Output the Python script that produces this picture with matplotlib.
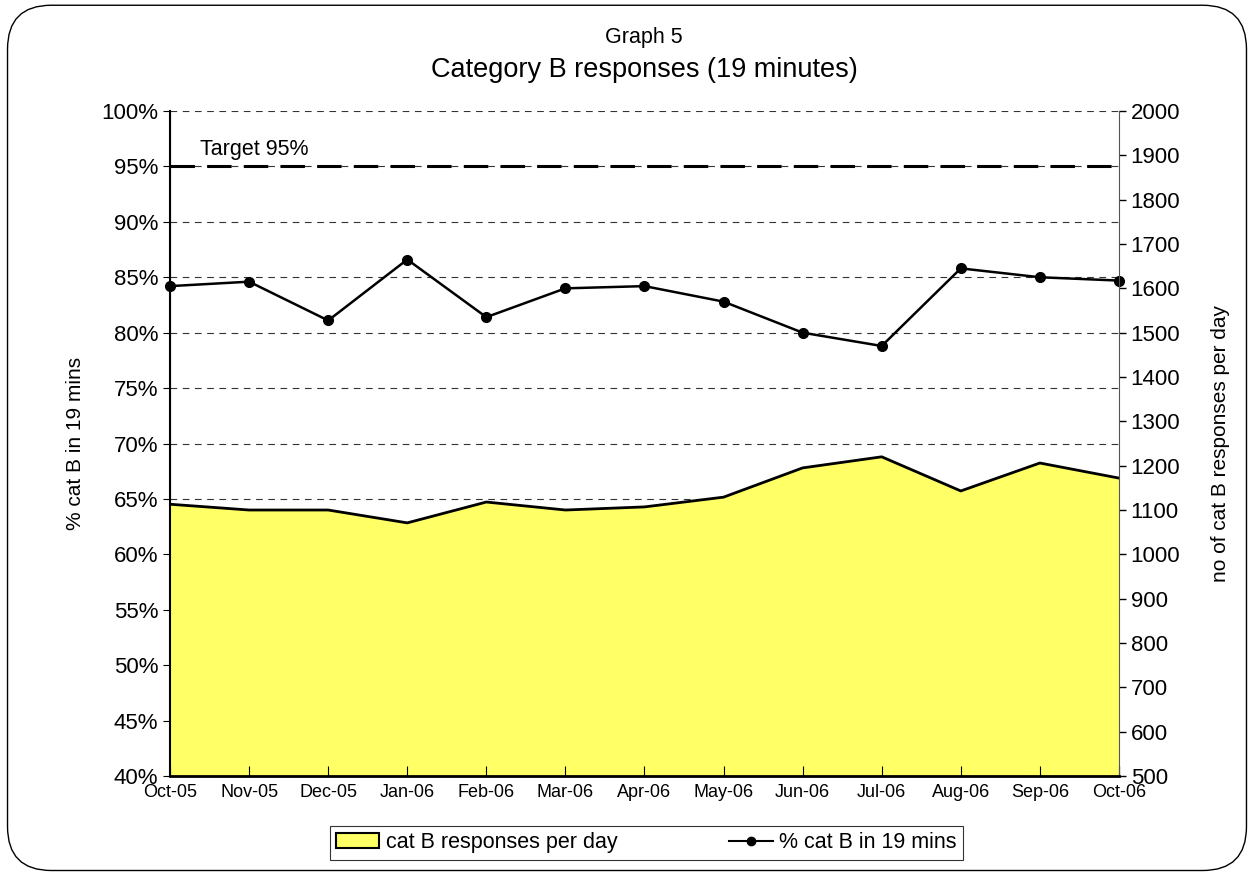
import matplotlib
matplotlib.use("Agg")
import matplotlib.pyplot as plt
from matplotlib.patches import FancyBboxPatch
from matplotlib.lines import Line2D
from matplotlib.patches import Patch
from matplotlib.ticker import FuncFormatter, MultipleLocator

plt.rcParams["font.family"] = ["Liberation Sans", "DejaVu Sans"]

months = ["Oct-05", "Nov-05", "Dec-05", "Jan-06", "Feb-06", "Mar-06", "Apr-06",
          "May-06", "Jun-06", "Jul-06", "Aug-06", "Sep-06", "Oct-06"]
pct_19min = [84.2, 84.6, 81.1, 86.6, 81.4, 84.0, 84.2, 82.8, 80.0, 78.8, 85.8, 85.0, 84.7]
responses_per_day = [1113, 1100, 1100, 1071, 1118, 1100, 1107, 1129, 1195, 1220, 1143, 1206, 1172]
target = 95

fig = plt.figure(figsize=(12.54, 8.74), dpi=100)
fig.patches.append(FancyBboxPatch((0.006, 0.004), 0.988, 0.99, boxstyle="round,pad=0,rounding_size=0.035",
                                  transform=fig.transFigure, fill=False, edgecolor="black", linewidth=1.0,
                                  mutation_aspect=1254 / 874))

ax = fig.add_axes([0.1356, 0.1121, 0.7567, 0.7609])
ax2 = ax.twinx()
x = list(range(len(months)))

# left axis (below): grid, target and percentage line
ax.set_ylim(40, 100)
ax.yaxis.set_major_locator(MultipleLocator(5))
ax.yaxis.set_major_formatter(FuncFormatter(lambda v, p: f"{v:.0f}%"))
ax.grid(axis="y", linestyle=(0, (6, 5)), color="#333333", linewidth=0.8)
ax.set_axisbelow(True)
ax.axhline(target, color="black", linewidth=2.2, linestyle=(0, (8, 4)), zorder=3)
ax.text(0.38, 96.0, "Target 95%", fontsize=15.5)
ax.plot(x, pct_19min, color="black", linewidth=1.8, marker="o", markersize=7, zorder=4, clip_on=False)
ax.set_xlim(0, len(months) - 1)
ax.set_xticks(x)
ax.set_xticklabels(months, fontsize=13)
ax.tick_params(axis="x", direction="in", length=7, pad=6)
ax.tick_params(axis="y", labelsize=16, direction="out", length=5)
ax.set_ylabel("% cat B in 19 mins", fontsize=15, labelpad=12)

# right axis (on top): area covers the gridlines
ax2.fill_between(x, 500, responses_per_day, facecolor="#FFFF66", edgecolor="none", zorder=1)
ax2.plot(x, responses_per_day, color="black", linewidth=2, zorder=2)
ax2.set_ylim(500, 2000)
ax2.yaxis.set_major_locator(MultipleLocator(100))
ax2.set_ylabel("no of cat B responses per day", fontsize=15, labelpad=22)
ax2.tick_params(axis="y", labelsize=16, direction="out", length=5, width=1, colors="black")
# x tick marks drawn again on top of the area
ax2.xaxis.set_visible(True)
ax2.tick_params(axis="x", bottom=True, labelbottom=False, top=False, labeltop=False,
                direction="in", length=7)

for a in (ax, ax2):
    a.spines["top"].set_visible(False)
ax.spines["right"].set_visible(False)
ax2.spines["right"].set_color("#555555")
ax.spines["left"].set_color("#555555")
ax2.spines["left"].set_color("black")
ax2.spines["left"].set_linewidth(1.5)
ax2.spines["left"].set_zorder(5)
ax2.spines["bottom"].set_linewidth(2)
ax2.spines["bottom"].set_zorder(5)

fig.text(0.5135, 0.957, "Graph 5", ha="center", va="center", fontsize=15.5)
fig.text(0.5135, 0.92, "Category B responses (19 minutes)", ha="center", va="center", fontsize=19.5)

handles = [Patch(facecolor="#FFFF66", edgecolor="black", linewidth=1.5),
           Line2D([0], [0], color="black", marker="o", markersize=6, linewidth=1.5)]
leg = fig.legend(handles, ["cat B responses per day", "% cat B in 19 mins"], ncol=2,
                 loc="center", bbox_to_anchor=(0.5155, 0.0355), fontsize=15.5, frameon=True,
                 fancybox=False, edgecolor="black", handlelength=2.0, handletextpad=0.3,
                 columnspacing=5.2, borderpad=0.3, borderaxespad=0)
leg.get_frame().set_linewidth(0.8)
leg._legend_box.align = "center"

fig.savefig("out.png", dpi=100)
